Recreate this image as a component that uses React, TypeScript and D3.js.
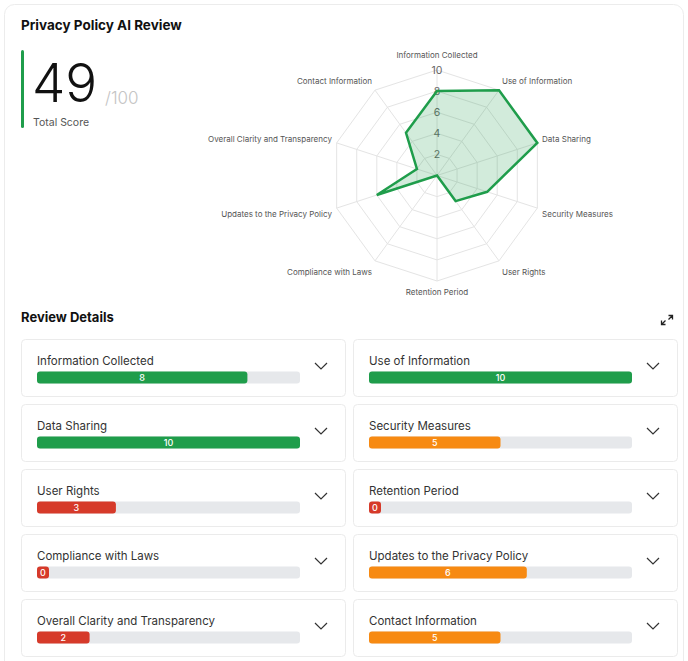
import React from "react";
import * as d3 from "d3";

const categories = [
  "Information Collected",
  "Use of Information",
  "Data Sharing",
  "Security Measures",
  "User Rights",
  "Retention Period",
  "Compliance with Laws",
  "Updates to the Privacy Policy",
  "Overall Clarity and Transparency",
  "Contact Information",
];
const scores = [8, 10, 10, 5, 3, 0, 0, 6, 2, 5];
const radarTicks = [2, 4, 6, 8, 10];
const maxScore = 10;
const totalMax = 100;

const GREEN = "#1f9d4b";
const ORANGE = "#f78a12";
const RED = "#d63a2a";
const FONT = "Inter, 'Open Sans', sans-serif";

const colorFor = (v: number) => (v >= 7 ? GREEN : v >= 4 ? ORANGE : RED);

function Radar() {
  const cx = 437;
  const cy = 175.5;
  const R = 105.5;
  const r = d3.scaleLinear().domain([0, maxScore]).range([0, R]);
  const angle = d3
    .scaleLinear()
    .domain([0, categories.length])
    .range([0, 2 * Math.PI]);

  const ring = (v: number) =>
    d3
      .lineRadial<string>()
      .angle((_, i) => angle(i))
      .radius(() => r(v))
      .curve(d3.curveLinearClosed)(categories) as string;

  const shape = d3
    .lineRadial<number>()
    .angle((_, i) => angle(i))
    .radius((d) => r(d))
    .curve(d3.curveLinearClosed)(scores) as string;

  return (
    <g>
      <g transform={`translate(${cx},${cy})`}>
        {radarTicks.map((t) => (
          <path key={t} d={ring(t)} fill="none" stroke="#e4e4e4" strokeWidth={1} />
        ))}
        {categories.map((c, i) => {
          const a = angle(i);
          return (
            <line
              key={c}
              x1={0}
              y1={0}
              x2={R * Math.sin(a)}
              y2={-R * Math.cos(a)}
              stroke="#e4e4e4"
              strokeWidth={1}
            />
          );
        })}
        {radarTicks.map((t) => (
          <text
            key={"t" + t}
            x={0}
            y={-r(t)}
            textAnchor="middle"
            dominantBaseline="central"
            fontFamily={FONT}
            fontSize={10.5}
            fill="#666"
          >
            {t}
          </text>
        ))}
        <path
          d={shape}
          fill="rgba(31,157,75,0.2)"
          stroke={GREEN}
          strokeWidth={2.5}
          strokeLinejoin="miter"
        />
      </g>
      {categories.map((c, i) => {
        const a = angle(i);
        const s = Math.sin(a);
        const co = Math.cos(a);
        const anchor = Math.abs(s) < 0.01 ? "middle" : s > 0 ? "start" : "end";
        const x = cx + (R + 5) * s;
        let y = cy - (R + 11) * co;
        if (Math.abs(s) < 0.01) y += co > 0 ? -4 : 0;
        else if (co < 0) y += 2;
        return (
          <text
            key={c}
            x={x}
            y={y}
            textAnchor={anchor}
            dominantBaseline="central"
            fontFamily={FONT}
            fontSize={8}
            fill="#555"
          >
            {c}
          </text>
        );
      })}
    </g>
  );
}

function Card({ label, value, x, y }: { label: string; value: number; x: number; y: number }) {
  const barW = 263;
  const w = d3.scaleLinear().domain([0, maxScore]).range([0, barW]);
  const fillW = Math.max(w(value), 12);
  return (
    <g transform={`translate(${x},${y})`}>
      <rect x={0.5} y={0.5} width={324} height={57} rx={4} fill="#fff" stroke="#ebebeb" />
      <text x={16} y={25.5} fontFamily={FONT} fontSize={11.5} fill="#333">
        {label}
      </text>
      <rect x={16} y={32.5} width={barW} height={12} rx={3} fill="#e6e8eb" />
      <rect x={16} y={32.5} width={fillW} height={12} rx={3} fill={colorFor(value)} />
      <text
        x={16 + fillW / 2}
        y={38.8}
        textAnchor="middle"
        dominantBaseline="central"
        fontFamily={FONT}
        fontSize={9}
        fontWeight={500}
        fill="#fff"
      >
        {value}
      </text>
      <path
        d={`M ${300 - 6} ${24} L ${300} ${30} L ${300 + 6} ${24}`}
        fill="none"
        stroke="#333"
        strokeWidth={1.2}
      />
    </g>
  );
}

export default function App() {
  const total = d3.sum(scores);
  const colX = [21, 353];
  const rowY = d3.range(5).map((i) => 339 + i * 65);
  return (
    <svg
      width={688}
      height={661}
      style={{ position: "absolute", left: 0, top: 0, background: "#fff" }}
    >
      <rect x={4.5} y={4.5} width={679} height={700} rx={10} fill="#fff" stroke="#ececec" />
      <text x={21} y={30} fontFamily={FONT} fontSize={13.5} fontWeight={700} fill="#111">
        Privacy Policy AI Review
      </text>
      <rect x={21} y={50} width={3} height={78} rx={1.5} fill={GREEN} />
      <text x={32} y={102} fontFamily={FONT} fontSize={53} fontWeight={300} fill="#111">
        {total}
      </text>
      <text x={105} y={104} fontFamily={FONT} fontSize={17} fontWeight={300} fill="#c4c4c4">
        /{totalMax}
      </text>
      <text x={33} y={125.5} fontFamily={FONT} fontSize={10.5} fill="#555">
        Total Score
      </text>
      <Radar />
      <text x={21} y={322} fontFamily={FONT} fontSize={13} fontWeight={700} fill="#111">
        Review Details
      </text>
      <g fill="none" stroke="#222" strokeWidth={1.3}>
        <path d="M 668.5 315.5 L 672.5 315.5 L 672.5 319.5 M 672.5 315.5 L 668.5 319.5" />
        <path d="M 661.5 320.5 L 661.5 324.5 L 665.5 324.5 M 661.5 324.5 L 665.5 320.5" />
      </g>
      {categories.map((c, i) => (
        <Card key={c} label={c} value={scores[i]} x={colX[i % 2]} y={rowY[Math.floor(i / 2)]} />
      ))}
    </svg>
  );
}
